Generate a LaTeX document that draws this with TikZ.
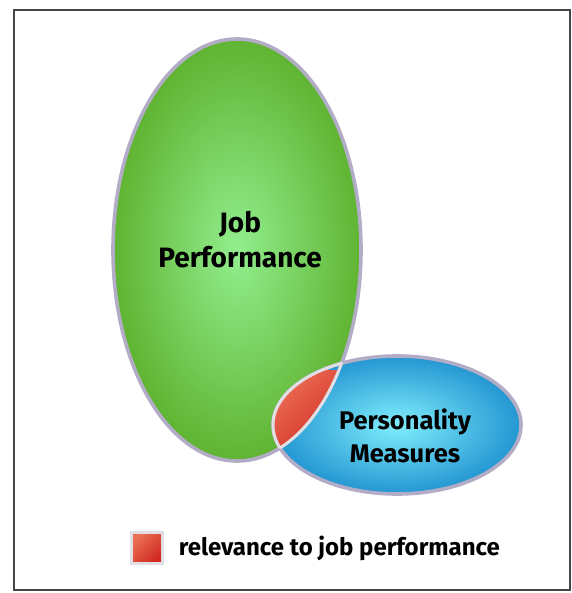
\documentclass[tikz,border=0pt]{standalone}
\usepackage{fontspec}
\setmainfont{Fira Sans}
\usetikzlibrary{shapes.geometric,positioning}
\definecolor{rimgrey}{RGB}{178,172,198}
\definecolor{framegrey}{RGB}{70,70,70}
\definecolor{lensrim}{RGB}{225,222,228}
\definecolor{greenin}{RGB}{146,238,142}
\definecolor{greenout}{RGB}{96,180,50}
\definecolor{bluein}{RGB}{128,238,252}
\definecolor{blueout}{RGB}{36,150,210}
\definecolor{redlight}{RGB}{236,112,86}
\definecolor{reddark}{RGB}{208,40,32}

\begin{document}
\begin{tikzpicture}[x=1pt, y=-1pt,
  blob/.style={ellipse, draw=rimgrey, line width=3.6pt, inner sep=0pt},
  tag/.style={font=\bfseries\fontsize{28}{35}\selectfont, align=center},
  redfill/.style={left color=redlight, right color=reddark, shading angle=45}]
  \useasboundingbox (0,0) rectangle (571,593);
  % Frame
  \draw[framegrey, line width=1.2pt] (14,10) rectangle (570,590);
  % Ellipses
  \node[blob, minimum width=248pt, minimum height=422pt, inner color=greenin, outer color=greenout] (job) at (237,250) {};
  \node[blob, minimum width=248pt, minimum height=138pt, inner color=bluein, outer color=blueout] (pm) at (397,425) {};
  % Overlap
  \begin{scope}
    \clip (job.center) ellipse [x radius=124, y radius=211];
    \clip (pm.center) ellipse [x radius=124, y radius=69];
    \shade[redfill] (270,370) rectangle (342,460);
  \end{scope}
  \begin{scope}
    \clip (job.center) ellipse [x radius=124, y radius=211];
    \draw[lensrim, line width=3pt] (pm.center) ellipse [x radius=124, y radius=69];
  \end{scope}
  \begin{scope}
    \clip (pm.center) ellipse [x radius=124, y radius=69];
    \draw[lensrim, line width=3pt] (job.center) ellipse [x radius=124, y radius=211];
  \end{scope}
  % Labels
  \node[tag] (jobtext) at (240,240) {Job\\Performance};
  \node[tag, font=\bfseries\fontsize{25.5}{33}\selectfont] (pmtext) at (405,436) {Personality\\Measures};
  % Legend
  \node[draw=lensrim, line width=2.5pt, minimum size=31pt, inner sep=0pt, redfill] (key) at (147,548) {};
  \node[right=15pt of key, font=\bfseries\fontsize{24}{29}\selectfont, inner sep=0pt] (keytext) {relevance to job performance};
\end{tikzpicture}
\end{document}
